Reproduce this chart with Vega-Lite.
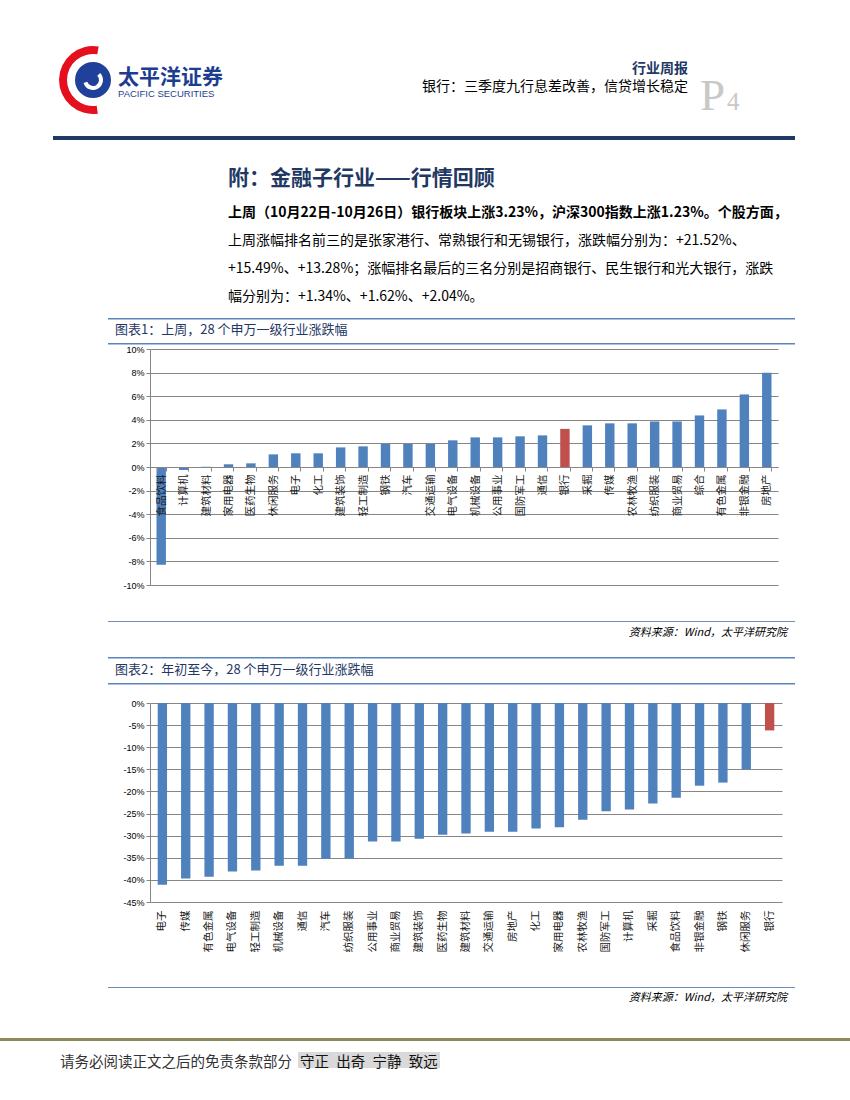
{
  "$schema": "https://vega.github.io/schema/vega-lite/v6.json",
  "padding": 0,
  "background": "#ffffff",
  "columns": 4,
  "spacing": 0,
  "bounds": "flush",
  "align": "each",
  "config": {
    "view": {"stroke": null},
    "font": "Noto Sans CJK SC",
    "concat": {"spacing": 0},
    "title": {"orient": "bottom", "anchor": "start", "frame": "group", "offset": 0, "font": "Noto Sans CJK SC", "subtitleFont": "Noto Sans CJK SC", "color": "#000000", "subtitleColor": "#000000", "fontWeight": "normal"}
  },
  "concat": [
    {"width": 53, "height": 45, "data": {"values": []}, "mark": "point",
     "title": {"text": "太平洋证券", "subtitle": "PACIFIC SECURITIES", "fontSize": 21, "fontWeight": "bold", "color": "#1D3E8F", "dx": 118, "offset": 22, "subtitleFont": "Liberation Sans", "subtitleFontSize": 9.5, "subtitleColor": "#1D3E8F", "subtitlePadding": 1}},
    {"width": 25, "height": 45, "data": {"values": []}, "mark": "point",
     "title": {"text": "P", "font": "Liberation Serif", "fontSize": 45, "fontWeight": "normal", "color": "#C8C8C8", "dx": 647, "offset": 29}},
    {"width": 30, "height": 45, "data": {"values": []}, "mark": "point",
     "title": {"text": "4", "font": "Liberation Serif", "fontSize": 25, "fontWeight": "normal", "color": "#C8C8C8", "dx": 649, "offset": 45}},
    {"width": 742, "height": 45, "data": {"values": []}, "mark": "point",
     "title": {"text": "行业周报", "anchor": "end", "dx": -162, "fontSize": 14, "fontWeight": "bold", "color": "#1F3864", "offset": 17, "subtitle": "银行：三季度九行息差改善，信贷增长稳定", "subtitleFontSize": 14, "subtitleColor": "#000000", "subtitlePadding": 4}},

    {"width": 53, "height": 91, "data": {"values": []}, "mark": "point"},
    {"width": 1, "height": 1, "data": {"values": []}, "mark": "point"},
    {"width": 30, "height": 70, "data": {"values": [{"part": "logo"}]},
     "layer": [
       {"mark": {"type": "arc", "radius": 34, "radius2": 26, "theta": 3.0, "theta2": 6.45, "color": "#E50F1E"}, "encoding": {}},
       {"mark": {"type": "arc", "radius": 18, "theta": 0, "theta2": 6.2832, "color": "#1F4199"}, "encoding": {}},
       {"mark": {"type": "arc", "radius": 10, "radius2": 6, "theta": 0.8, "theta2": 4.4, "color": "#ffffff"}, "encoding": {}}
     ]},
    {"width": 1, "height": 1, "data": {"values": []}, "mark": "point"},

    {"width": 53, "height": 4, "data": {"values": []}, "mark": "point"},
    {"width": 25, "height": 4, "data": {"values": []}, "mark": "point", "view": {"fill": "#1F3864"}},
    {"width": 30, "height": 4, "data": {"values": []}, "mark": "point", "view": {"fill": "#1F3864"}},
    {"width": 687, "height": 4, "data": {"values": []}, "mark": "point", "view": {"fill": "#1F3864"},
     "title": {"text": "附：金融子行业——行情回顾", "fontSize": 21, "fontWeight": "bold", "color": "#1F3864", "dx": 120, "offset": 28}},

    {"width": 53, "height": 66, "data": {"values": []}, "mark": "point",
     "title": {"text": "上周（10月22日-10月26日）银行板块上涨3.23%，沪深300指数上涨1.23%。个股方面，",
               "subtitle": ["上周涨幅排名前三的是张家港行、常熟银行和无锡银行，涨跌幅分别为：+21.52%、", "+15.49%、+13.28%；涨幅排名最后的三名分别是招商银行、民生银行和光大银行，涨跌", "幅分别为：+1.34%、+1.62%、+2.04%。"],
               "fontSize": 14, "fontWeight": "bold", "subtitleFontSize": 14, "subtitleLineHeight": 28, "subtitlePadding": 14, "dx": 228, "offset": 0}},
    {"width": 1, "height": 1, "data": {"values": []}, "mark": "point"},
    {"width": 1, "height": 1, "data": {"values": []}, "mark": "point"},
    {"width": 1, "height": 1, "data": {"values": []}, "mark": "point"},

    {"width": 53, "height": 112, "data": {"values": []}, "mark": "point"},
    {"width": 1, "height": 1, "data": {"values": []}, "mark": "point"},
    {"width": 1, "height": 1, "data": {"values": []}, "mark": "point"},
    {"width": 1, "height": 1, "data": {"values": []}, "mark": "point"},

    {"width": 53, "height": 25, "data": {"values": []}, "mark": "point"},
    {"width": 1, "height": 1, "data": {"values": []}, "mark": "point"},
    {"width": 1, "height": 1, "data": {"values": []}, "mark": "point"},
    {"width": 687, "height": 1.5, "data": {"values": []}, "mark": "point", "view": {"fill": "#5B83BD"},
     "title": {"text": "图表1：上周，28 个申万一级行业涨跌幅", "fontSize": 13, "color": "#1F3864", "dx": 7, "offset": 4.5}},

    {"width": 53, "height": 6, "data": {"values": []}, "mark": "point"},
    {"width": 1, "height": 1, "data": {"values": []}, "mark": "point"},
    {"width": 1, "height": 1, "data": {"values": []}, "mark": "point"},
    {"width": 687, "height": 1.5, "data": {"values": []}, "mark": "point", "view": {"fill": "#5B83BD"}},

    {"width": 53, "height": 1, "data": {"values": []}, "mark": "point"},
    {"width": 1, "height": 1, "data": {"values": []}, "mark": "point"},
    {"width": 1, "height": 1, "data": {"values": []}, "mark": "point"},
    {"width": 670, "height": 236,
     "data": {"values": [
       {"name": "食品饮料", "pct": -8.29},
       {"name": "计算机", "pct": -0.25},
       {"name": "建筑材料", "pct": 0.02},
       {"name": "家用电器", "pct": 0.23},
       {"name": "医药生物", "pct": 0.31},
       {"name": "休闲服务", "pct": 1.07},
       {"name": "电子", "pct": 1.16},
       {"name": "化工", "pct": 1.16},
       {"name": "建筑装饰", "pct": 1.66},
       {"name": "轻工制造", "pct": 1.75},
       {"name": "钢铁", "pct": 1.95},
       {"name": "汽车", "pct": 1.95},
       {"name": "交通运输", "pct": 1.95},
       {"name": "电气设备", "pct": 2.26},
       {"name": "机械设备", "pct": 2.51},
       {"name": "公用事业", "pct": 2.51},
       {"name": "国防军工", "pct": 2.6},
       {"name": "通信", "pct": 2.68},
       {"name": "银行", "pct": 3.23},
       {"name": "采掘", "pct": 3.53},
       {"name": "传媒", "pct": 3.7},
       {"name": "农林牧渔", "pct": 3.7},
       {"name": "纺织服装", "pct": 3.86},
       {"name": "商业贸易", "pct": 3.86},
       {"name": "综合", "pct": 4.37},
       {"name": "有色金属", "pct": 4.88},
       {"name": "非银金融", "pct": 6.15},
       {"name": "房地产", "pct": 7.98}
     ]},
     "mark": {"type": "bar"},
     "encoding": {
       "x": {"field": "name", "type": "nominal", "sort": null,
             "scale": {"range": [42, 670], "paddingInner": 0.58, "paddingOuter": 0.29},
             "axis": {"title": null, "orient": "bottom", "offset": -118, "zindex": 1, "labelAngle": -90, "labelFontSize": 10.5, "labelColor": "#1a1a1a", "labelPadding": 3, "domainColor": "#868686", "tickColor": "#868686", "tickSize": 4, "tickBand": "extent", "grid": false}},
       "y": {"field": "pct", "type": "quantitative", "scale": {"domain": [-10, 10], "nice": false},
             "axis": {"title": null, "offset": -42, "values": [-10, -8, -6, -4, -2, 0, 2, 4, 6, 8, 10], "labelExpr": "datum.value + '%'", "labelFont": "Liberation Sans", "labelFontSize": 9, "labelColor": "#000000", "gridColor": "#868686", "domainColor": "#868686", "tickColor": "#868686", "tickSize": 4, "labelPadding": 2}},
       "color": {"condition": {"test": "datum.name === '银行'", "value": "#C0504D"}, "value": "#4F81BD"}
     }},

    {"width": 53, "height": 36, "data": {"values": []}, "mark": "point"},
    {"width": 1, "height": 1, "data": {"values": []}, "mark": "point"},
    {"width": 1, "height": 1, "data": {"values": []}, "mark": "point"},
    {"width": 1, "height": 1, "data": {"values": []}, "mark": "point"},

    {"width": 53, "height": 36, "data": {"values": []}, "mark": "point"},
    {"width": 1, "height": 1, "data": {"values": []}, "mark": "point"},
    {"width": 1, "height": 1, "data": {"values": []}, "mark": "point"},
    {"width": 687, "height": 1, "data": {"values": []}, "mark": "point", "view": {"fill": "#6F8DB9"},
     "title": {"text": "资料来源：Wind，太平洋研究院", "anchor": "end", "fontSize": 11, "fontStyle": "italic", "dx": -8, "offset": 5}},

    {"width": 53, "height": 26, "data": {"values": []}, "mark": "point"},
    {"width": 1, "height": 1, "data": {"values": []}, "mark": "point"},
    {"width": 1, "height": 1, "data": {"values": []}, "mark": "point"},
    {"width": 687, "height": 1.5, "data": {"values": []}, "mark": "point", "view": {"fill": "#5B83BD"},
     "title": {"text": "图表2：年初至今，28 个申万一级行业涨跌幅", "fontSize": 13, "color": "#1F3864", "dx": 7, "offset": 5}},

    {"width": 53, "height": 20, "data": {"values": []}, "mark": "point"},
    {"width": 1, "height": 1, "data": {"values": []}, "mark": "point"},
    {"width": 1, "height": 1, "data": {"values": []}, "mark": "point"},
    {"width": 687, "height": 1.5, "data": {"values": []}, "mark": "point", "view": {"fill": "#5B83BD"}},

    {"width": 53, "height": 1, "data": {"values": []}, "mark": "point"},
    {"width": 1, "height": 1, "data": {"values": []}, "mark": "point"},
    {"width": 1, "height": 1, "data": {"values": []}, "mark": "point"},
    {"width": 674, "height": 199,
     "data": {"values": [
       {"name": "电子", "pct": -41.1},
       {"name": "传媒", "pct": -39.7},
       {"name": "有色金属", "pct": -39.3},
       {"name": "电气设备", "pct": -38.1},
       {"name": "轻工制造", "pct": -37.9},
       {"name": "机械设备", "pct": -36.8},
       {"name": "通信", "pct": -36.8},
       {"name": "汽车", "pct": -35.2},
       {"name": "纺织服装", "pct": -35.1},
       {"name": "公用事业", "pct": -31.3},
       {"name": "商业贸易", "pct": -31.3},
       {"name": "建筑装饰", "pct": -30.7},
       {"name": "医药生物", "pct": -29.8},
       {"name": "建筑材料", "pct": -29.5},
       {"name": "交通运输", "pct": -29.1},
       {"name": "房地产", "pct": -29.1},
       {"name": "化工", "pct": -28.4},
       {"name": "家用电器", "pct": -28.1},
       {"name": "农林牧渔", "pct": -26.4},
       {"name": "国防军工", "pct": -24.5},
       {"name": "计算机", "pct": -24.1},
       {"name": "采掘", "pct": -22.7},
       {"name": "食品饮料", "pct": -21.4},
       {"name": "非银金融", "pct": -18.7},
       {"name": "钢铁", "pct": -18.0},
       {"name": "休闲服务", "pct": -15.0},
       {"name": "银行", "pct": -6.2}
     ]},
     "mark": {"type": "bar"},
     "encoding": {
       "x": {"field": "name", "type": "nominal", "sort": null,
             "scale": {"range": [42, 674], "paddingInner": 0.6, "paddingOuter": 0.33},
             "axis": {"title": null, "orient": "bottom", "labelAngle": -90, "labelFontSize": 10.5, "labelColor": "#1a1a1a", "labelPadding": 8, "domain": false, "ticks": false, "grid": false}},
       "y": {"field": "pct", "type": "quantitative", "scale": {"domain": [-45, 0], "nice": false},
             "axis": {"title": null, "offset": -42, "values": [-45, -40, -35, -30, -25, -20, -15, -10, -5, 0], "labelExpr": "datum.value + '%'", "labelFont": "Liberation Sans", "labelFontSize": 9, "labelColor": "#000000", "gridColor": "#868686", "domainColor": "#868686", "tickColor": "#868686", "tickSize": 4, "labelPadding": 2}},
       "color": {"condition": {"test": "datum.name === '银行'", "value": "#C0504D"}, "value": "#4F81BD"}
     }},

    {"width": 53, "height": 85, "data": {"values": []}, "mark": "point"},
    {"width": 1, "height": 1, "data": {"values": []}, "mark": "point"},
    {"width": 1, "height": 1, "data": {"values": []}, "mark": "point"},
    {"width": 1, "height": 1, "data": {"values": []}, "mark": "point"},

    {"width": 53, "height": 51, "data": {"values": []}, "mark": "point"},
    {"width": 1, "height": 1, "data": {"values": []}, "mark": "point"},
    {"width": 1, "height": 1, "data": {"values": []}, "mark": "point"},
    {"width": 687, "height": 1, "data": {"values": []}, "mark": "point", "view": {"fill": "#6F8DB9"},
     "title": {"text": "资料来源：Wind，太平洋研究院", "anchor": "end", "fontSize": 11, "fontStyle": "italic", "dx": -8, "offset": 4}},

    {"width": 53, "height": 3, "data": {"values": []}, "mark": "point", "view": {"fill": "#8C8A5A"}},
    {"width": 25, "height": 3, "data": {"values": []}, "mark": "point", "view": {"fill": "#8C8A5A"}},
    {"width": 30, "height": 3, "data": {"values": []}, "mark": "point", "view": {"fill": "#8C8A5A"}},
    {"width": 742, "height": 3, "data": {"values": []}, "mark": "point", "view": {"fill": "#8C8A5A"}},

    {"width": 53, "height": 11, "data": {"values": []}, "mark": "point"},
    {"width": 1, "height": 1, "data": {"values": []}, "mark": "point"},
    {"width": 1, "height": 1, "data": {"values": []}, "mark": "point"},
    {"width": 1, "height": 1, "data": {"values": []}, "mark": "point"},

    {"width": 53, "height": 16, "data": {"values": []}, "mark": "point",
     "title": {"text": "请务必阅读正文之后的免责条款部分", "anchor": "start", "fontSize": 14.5, "color": "#333333", "dx": 60, "dy": -16}},
    {"width": 1, "height": 1, "data": {"values": []}, "mark": "point"},
    {"width": 1, "height": 1, "data": {"values": []}, "mark": "point"},
    {"hconcat": [
      {"width": 190, "height": 16, "data": {"values": []}, "mark": "point"},
      {"width": 142, "height": 16, "data": {"values": []}, "mark": "point", "view": {"fill": "#D9D9D9"},
       "title": {"text": "守正\u2002出奇\u2002宁静\u2002致远", "anchor": "start", "fontSize": 14.5, "color": "#111111", "dx": 2, "dy": -16}}
    ], "spacing": 0, "bounds": "flush"}
  ]
}
